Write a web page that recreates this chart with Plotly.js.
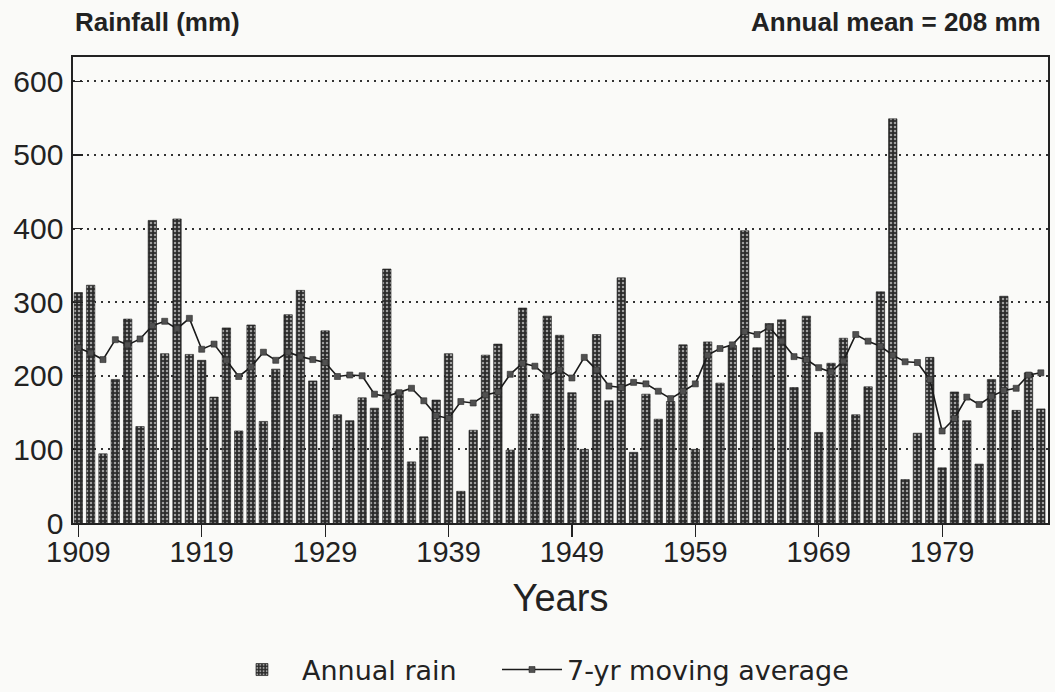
<!DOCTYPE html>
<html>
<head>
<meta charset="utf-8">
<script src="https://cdn.plot.ly/plotly-3.0.1.min.js"></script>
<style>
  html, body { margin: 0; padding: 0; background: #fafaf8; }
  #chart { width: 1055px; height: 692px; }
</style>
</head>
<body>
<div id="chart"></div>
<script>
// Years 1909–1987
const years = [
  1909,1910,1911,1912,1913,1914,1915,1916,1917,1918,
  1919,1920,1921,1922,1923,1924,1925,1926,1927,1928,
  1929,1930,1931,1932,1933,1934,1935,1936,1937,1938,
  1939,1940,1941,1942,1943,1944,1945,1946,1947,1948,
  1949,1950,1951,1952,1953,1954,1955,1956,1957,1958,
  1959,1960,1961,1962,1963,1964,1965,1966,1967,1968,
  1969,1970,1971,1972,1973,1974,1975,1976,1977,1978,
  1979,1980,1981,1982,1983,1984,1985,1986,1987
];

// Annual rainfall (mm)
const annualRain = [
  313,323,94,195,277,131,411,230,413,229,
  221,171,265,125,269,138,209,283,316,193,
  261,147,139,170,156,345,179,83,117,167,
  230,43,126,228,243,99,292,148,281,255,
  177,100,256,166,333,96,175,141,165,242,
  100,246,190,241,397,238,271,276,184,281,
  123,217,251,147,185,314,549,59,122,225,
  75,178,139,80,195,308,153,204,155
];

// 7-yr moving average (mm)
const movingAvg = [
  238,231,222,249,242,250,268,274,264,278,
  236,243,221,199,212,232,221,232,226,222,
  218,199,201,200,175,172,177,183,166,146,
  142,165,163,174,178,202,217,213,199,208,
  197,225,208,186,184,191,189,179,169,179,
  189,228,237,242,260,256,266,247,226,222,
  211,205,220,256,247,240,228,219,218,195,
  125,142,171,161,172,180,183,201,204
];

const xTicks = [1909,1919,1929,1939,1949,1959,1969,1979];
const yTicks = [0,100,200,300,400,500,600];

const barTrace = {
  type: 'bar',
  name: 'Annual rain',
  legend: 'legend',
  x: years,
  y: annualRain,
  width: 0.68,
  marker: {
    color: '#2b2b2b',
    line: { color: '#1a1a1a', width: 0.6 },
    pattern: { shape: '.', fgcolor: '#a0a0a0', bgcolor: '#2b2b2b', size: 4, solidity: 0.3, fillmode: 'replace' }
  },
  hoverinfo: 'x+y'
};

const lineTrace = {
  type: 'scatter',
  mode: 'lines+markers',
  name: '7-yr moving average',
  legend: 'legend2',
  x: years,
  y: movingAvg,
  line: { color: '#1a1a1a', width: 1.6 },
  marker: { symbol: 'square', size: 6, color: '#505050', line: { color: '#2a2a2a', width: 0.6 } }
};

const legendFont = { family: 'DejaVu Sans', size: 27, color: '#222' };

const layout = {
  width: 1055,
  height: 692,
  margin: { l: 73, r: 7, t: 57, b: 169 },
  paper_bgcolor: '#fafaf8',
  plot_bgcolor: '#fafaf8',
  bargap: 0.3,
  showlegend: true,
  legend: {
    orientation: 'h',
    xref: 'container', yref: 'container',
    x: 0.2104, xanchor: 'left',
    y: 0.0318, yanchor: 'middle',
    font: legendFont,
    bgcolor: 'rgba(0,0,0,0)',
    itemwidth: 70
  },
  legend2: {
    orientation: 'h',
    xref: 'container', yref: 'container',
    x: 0.4711, xanchor: 'left',
    y: 0.0318, yanchor: 'middle',
    font: legendFont,
    bgcolor: 'rgba(0,0,0,0)',
    itemwidth: 60
  },
  xaxis: {
    range: [1908.57, 1987.58],
    tickmode: 'array',
    tickvals: xTicks,
    ticktext: xTicks.map(String),
    ticks: 'outside',
    ticklen: 12,
    tickwidth: 1.2,
    tickcolor: '#222',
    showgrid: false,
    zeroline: false,
    showline: true,
    linecolor: '#222',
    linewidth: 1.6,
    mirror: true,
    ticklabelstandoff: -9,
    tickfont: { family: 'Liberation Sans', size: 29, color: '#222' },
    title: { text: 'Years', font: { family: 'Liberation Sans', size: 38, color: '#222' }, standoff: 17 }
  },
  yaxis: {
    range: [0, 633],
    tickmode: 'array',
    tickvals: yTicks,
    ticktext: yTicks.map(String),
    ticks: 'inside',
    ticklen: 10,
    tickwidth: 1.2,
    tickcolor: '#222',
    showgrid: true,
    gridcolor: '#333',
    griddash: '2px,5px',
    gridwidth: 2,
    zeroline: false,
    showline: true,
    linecolor: '#222',
    linewidth: 1.6,
    mirror: true,
    ticklabelstandoff: 2,
    tickfont: { family: 'Liberation Sans', size: 30, color: '#222' }
  },
  annotations: [
    {
      xref: 'paper', yref: 'paper', x: 0, y: 1.075, xanchor: 'left', yanchor: 'middle',
      text: '<b>Rainfall (mm)</b>', showarrow: false,
      font: { family: 'Liberation Sans', size: 26, color: '#222' }
    },
    {
      xref: 'paper', yref: 'paper', x: 0.995, y: 1.075, xanchor: 'right', yanchor: 'middle',
      text: '<b>Annual mean = 208 mm</b>', showarrow: false,
      font: { family: 'Liberation Sans', size: 26, color: '#222' }
    }
  ]
};

Plotly.newPlot('chart', [barTrace, lineTrace], layout, { displayModeBar: false, staticPlot: true });
</script>
</body>
</html>
